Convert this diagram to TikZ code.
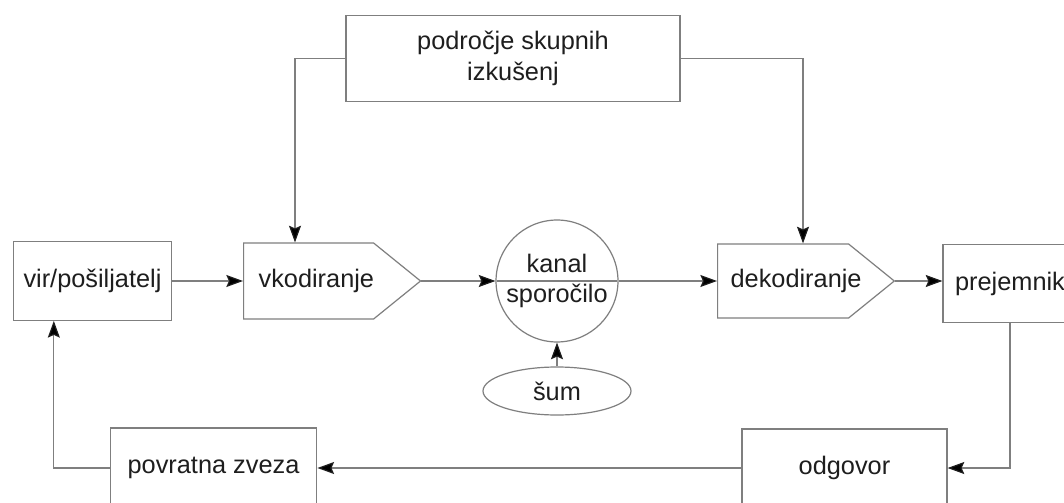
\documentclass[tikz,border=0pt]{standalone}
\usepackage{fontspec}
\setmainfont{Liberation Sans}
\usepackage{tikz}
\usetikzlibrary{arrows.meta, shapes.geometric, shapes.symbols, shapes.multipart}
\definecolor{linegray}{HTML}{7F7F7F}
\definecolor{ink}{HTML}{1E1E1E}

\begin{document}
\begin{tikzpicture}[x=0.75pt,y=-0.75pt,>={Stealth[length=12.5pt,width=9pt,inset=2pt,color=ink]},
  every node/.style={text=ink,font=\fontsize{19}{23}\selectfont},
  box/.style={draw=linegray,line width=0.9pt,rectangle,inner sep=0pt,minimum height=59pt},
  coder/.style={draw=linegray,line width=0.9pt,signal,signal to=east,signal pointer angle=78,
                inner ysep=0pt,align=left,anchor=west,minimum height=57pt},
  link/.style={->,draw=linegray,line width=0.9pt}]
  \useasboundingbox (0,0) rectangle (1064,503);
  \clip (0,0) rectangle (1064,503);
  \fill[white] (0,0) rectangle (1064,503);
  % boxes
  \node[box,minimum width=119pt] (Vir) at (92.5,281) {vir/pošiljatelj};
  \node[coder,inner xsep=11.25pt,text width=75pt] (Vk) at (243,281) {vkodiranje};
  \node[draw=linegray,line width=0.9pt,circle split,minimum size=88.5pt,inner sep=2pt] (Kan) at (557,281)
    {kanal\vphantom{p} \nodepart{lower} sporočilo};
  \node[coder,inner xsep=9.75pt,text width=78.75pt,minimum height=55.5pt] (Dek) at (717,281) {dekodiranje};
  \node[box,minimum width=100.5pt] (Prej) at (1010,283.5) {prejemnik};
  \node[draw=linegray,line width=0.9pt,ellipse,minimum width=111pt,minimum height=36pt,inner sep=0pt] (Sum) at (557,391) {šum};
  \node[box,minimum width=250.5pt,minimum height=65pt,align=center] (Izk) at (513,58.5)
    {področje skupnih\\izkušenj};
  \node[box,minimum width=153.75pt,minimum height=58.5pt] (Odg) at (844.5,468) {odgovor};
  \node[box,minimum width=155pt,minimum height=60pt] (Pov) at (213.5,468) {povratna zveza};
  % connectors
  \draw[link] (Vir.east) -- (Vk.west);
  \draw[link] (Vk.east) -- (Kan.west);
  \draw[link] (Kan.east) -- (Dek.west);
  \draw[link] (Dek.east) -- (Dek.east -| Prej.west);
  \draw[link] (Sum) -- (Kan);
  \draw[link] (Izk.west) -| ([xshift=39pt]Vk.north west);
  \draw[link] (Izk.east) -| ([xshift=64.5pt]Dek.north west);
  \draw[link] (Prej.south) |- (Odg.east);
  \draw[link] (Odg) -- (Pov);
  \draw[link] (Pov.west) -| ([xshift=-29pt]Vir.south);
\end{tikzpicture}
\end{document}
